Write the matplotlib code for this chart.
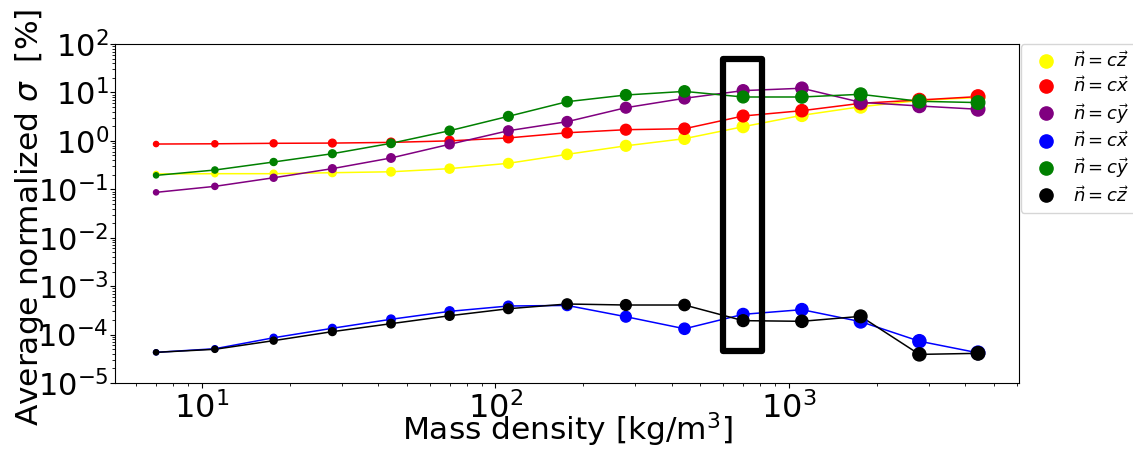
import numpy as np
import matplotlib.pyplot as plt
from matplotlib.lines import Line2D
from matplotlib.patches import Rectangle
from matplotlib.ticker import LogLocator

# mass density [kg/m^3]
density = [7.0, 11.1, 17.6, 27.9, 44.2, 70.0, 111, 176, 279, 442, 700, 1110, 1760, 2790, 4420]

# average normalized sigma [%]
sigma_yellow = [0.207, 0.21, 0.21, 0.22, 0.23, 0.267, 0.344, 0.527, 0.79, 1.11, 1.96, 3.37, 5.07, 6.8, 7.9]
sigma_red = [0.86, 0.87, 0.89, 0.90, 0.93, 1.0, 1.15, 1.47, 1.70, 1.78, 3.26, 4.2, 5.96, 6.98, 8.2]
sigma_purple = [0.0865, 0.115, 0.173, 0.267, 0.443, 0.85, 1.62, 2.49, 4.84, 7.57, 10.9, 12.2, 6.25, 5.25, 4.49]
sigma_blue = [4.3e-5, 5.1e-5, 8.6e-5, 1.35e-4, 2.07e-4, 3.02e-4, 3.89e-4, 4.0e-4, 2.34e-4, 1.32e-4,
              2.62e-4, 3.27e-4, 1.85e-4, 7.3e-5, 4.2e-5]
sigma_green = [0.194, 0.25, 0.366, 0.543, 0.89, 1.62, 3.21, 6.44, 8.85, 10.5, 8.05, 8.05, 9.15, 6.56, 6.17]
sigma_black = [4.3e-5, 4.97e-5, 7.5e-5, 1.15e-4, 1.68e-4, 2.45e-4, 3.42e-4, 4.28e-4, 4.08e-4, 4.08e-4,
               1.94e-4, 1.88e-4, 2.38e-4, 3.9e-5, 4.1e-5]

series = [
    (sigma_yellow, 'yellow', r'$\vec{n}=c\vec{z}$'),
    (sigma_red, 'red', r'$\vec{n}=c\vec{x}$'),
    (sigma_purple, 'purple', r'$\vec{n}=c\vec{y}$'),
    (sigma_blue, 'blue', r'$\vec{n}=c\vec{x}$'),
    (sigma_green, 'green', r'$\vec{n}=c\vec{y}$'),
    (sigma_black, 'black', r'$\vec{n}=c\vec{z}$'),
]

fig = plt.figure(figsize=(11.33, 4.55), dpi=100)
ax = fig.add_axes([0.1015, 0.1582, 0.798, 0.7451])

# marker size grows along the density axis
sizes = np.linspace(14, 95, len(density))

handles = []
for values, color, label in series:
    ax.plot(density, values, color=color, lw=1.1, zorder=2)
    ax.scatter(density, values, s=sizes, color=color, zorder=3)
    handles.append(Line2D([], [], ls='none', marker='o', markersize=9.5, color=color, label=label))

ax.set_xscale('log')
ax.set_yscale('log')
ax.set_ylim(1e-5, 1e2)
ax.yaxis.set_major_locator(LogLocator(base=10, numticks=20))
ax.yaxis.set_minor_locator(LogLocator(base=10, subs=np.arange(2, 10), numticks=20))

# highlight box around one density
box_x = density[10]
box = Rectangle((box_x / 1.17, 4.6e-5), box_x / 0.86 - box_x / 1.17, 50 - 4.6e-5,
                fill=False, edgecolor='black', lw=4.5, joinstyle='round', zorder=4)
ax.add_patch(box)

ax.set_xlabel('Mass density [kg/m$^3$]', fontsize=22.5)
ax.set_ylabel(r'Average normalized $\sigma$  [%]', fontsize=22.5)
ax.xaxis.set_label_coords(0.5, -0.08)
ax.yaxis.set_label_coords(-0.076, 0.49)
ax.tick_params(axis='x', which='major', labelsize=23)
ax.tick_params(axis='y', which='major', labelsize=22, pad=1)

fig.legend(handles=handles, loc='upper left', bbox_to_anchor=(0.901, 0.903),
           borderaxespad=0, fontsize=13, labelspacing=0.3, handletextpad=0.5)

fig.savefig('out.png', dpi=100)
